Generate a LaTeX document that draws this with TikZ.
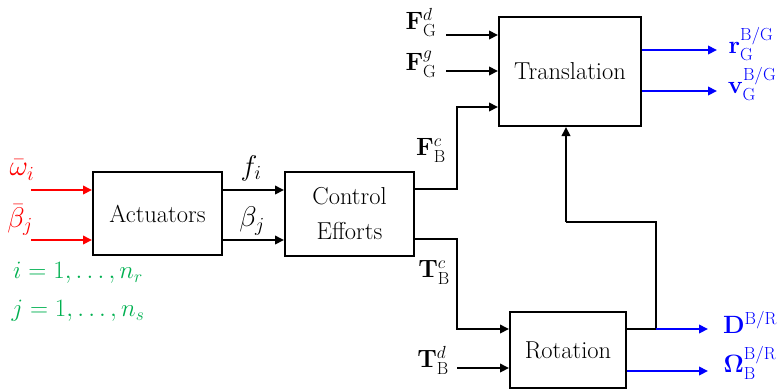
\RequirePackage{fix-cm}
\documentclass[tikz,border=0pt]{standalone}
\usepackage{amsmath}
\usetikzlibrary{arrows.meta}
\definecolor{myred}{RGB}{255,0,0}
\definecolor{myblue}{RGB}{0,0,255}
\definecolor{mygreen}{RGB}{0,176,80}
\begin{document}
\begin{tikzpicture}[x=1pt,y=-1pt,
  blk/.style={draw=black,line width=2pt,fill=white,inner sep=0pt,align=center,
    font=\fontsize{24.5}{35}\selectfont},
  ln/.style={draw=black,line width=2pt},
  arr/.style={ln,-{Triangle[length=9pt,width=8.5pt]}},
  redarr/.style={arr,draw=myred,-{Triangle[length=9pt,width=8.5pt,fill=myred]},color=myred},
  bluearr/.style={arr,draw=myblue,color=myblue},
  lbl/.style={inner sep=0pt,font=\fontsize{25}{30}\selectfont},
  biglbl/.style={inner sep=0pt,font=\fontsize{28.5}{34}\selectfont},
]
\useasboundingbox (0,0) rectangle (781,389);
% blocks
\node[blk,minimum width=129pt,minimum height=83pt] (act) at (157.5,213.5) {Actuators};
\node[blk,minimum width=129pt,minimum height=84pt] (ctrl) at (349.5,214) {Control\\Efforts};
\node[blk,minimum width=142pt,minimum height=109pt] (trans) at (570,71.5) {Translation};
\node[blk,minimum width=116pt,minimum height=76pt] (rot) at (568,350) {Rotation};
% coordinates
\coordinate (w0) at (31,190);
\coordinate (b0) at (31,240);
\coordinate (c1) at (457,189);
\coordinate (c2) at (457,107);
\coordinate (t1) at (457,239);
\coordinate (t2) at (457,329);
\coordinate (td) at (457,368);
\coordinate (fd) at (446,35);
\coordinate (fg) at (446,71);
\coordinate (ro) at (717,50);
\coordinate (vo) at (717,91);
\coordinate (k1) at (656,329);
\coordinate (k2) at (656,222);
\coordinate (k3) at (566,222);
\coordinate (dout) at (708,329);
\coordinate (oout) at (708,371);
% connectors
\draw[redarr] (w0) -- (w0 -| act.west);
\draw[redarr] (b0) -- (b0 -| act.west);
\draw[arr] (act.east |- w0) -- (ctrl.west |- w0);
\draw[arr] (act.east |- b0) -- (ctrl.west |- b0);
\draw[arr] (ctrl.east |- c1) -- (c1) -- (c2) -- (c2 -| trans.west);
\draw[arr] (ctrl.east |- t1) -- (t1) -- (t2) -- (t2 -| rot.west);
\draw[arr] (td) -- (td -| rot.west);
\draw[arr] (fd) -- (fd -| trans.west);
\draw[arr] (fg) -- (fg -| trans.west);
\draw[bluearr] (trans.east |- ro) -- (ro);
\draw[bluearr] (trans.east |- vo) -- (vo);
\draw[ln] (rot.east |- k1) -- (k1) -- (k2) -- (k3);
\draw[arr] (k3) -- (k3 |- trans.south);
\draw[bluearr] (k1) -- (dout);
\draw[bluearr] (rot.east |- oout) -- (oout);
% labels
\node[biglbl,text=myred] (lw) at (22,170) {$\bar{\omega}_i$};
\node[biglbl,text=myred] (lb) at (20,220) {$\bar{\beta}_j$};
\node[lbl,text=mygreen] (li) at (78,273) {$i=1,\ldots,n_r$};
\node[lbl,text=mygreen] (lj) at (78,311) {$j=1,\ldots,n_s$};
\node[biglbl] (lf) at (251,168) {$f_i$};
\node[biglbl] (lbeta) at (252,221) {$\beta_j$};
\node[lbl] (lfd) at (421,22) {$\mathbf{F}_{\mathrm{G}}^{d}$};
\node[lbl] (lfg) at (421,64) {$\mathbf{F}_{\mathrm{G}}^{g}$};
\node[lbl] (lfc) at (431,150) {$\mathbf{F}_{\mathrm{B}}^{c}$};
\node[lbl] (ltc) at (434,272) {$\mathbf{T}_{\mathrm{B}}^{c}$};
\node[lbl] (ltd) at (433,360) {$\mathbf{T}_{\mathrm{B}}^{d}$};
\node[lbl,text=myblue] (lr) at (751,44) {$\mathbf{r}_{\mathrm{G}}^{\mathrm{B/G}}$};
\node[lbl,text=myblue] (lv) at (752,84) {$\mathbf{v}_{\mathrm{G}}^{\mathrm{B/G}}$};
\node[lbl,text=myblue] (ld) at (750,322) {$\mathbf{D}^{\mathrm{B/R}}$};
\node[lbl,text=myblue] (lo) at (750,363) {$\mathbf{\Omega}_{\mathrm{B}}^{\mathrm{B/R}}$};
\end{tikzpicture}
\end{document}
